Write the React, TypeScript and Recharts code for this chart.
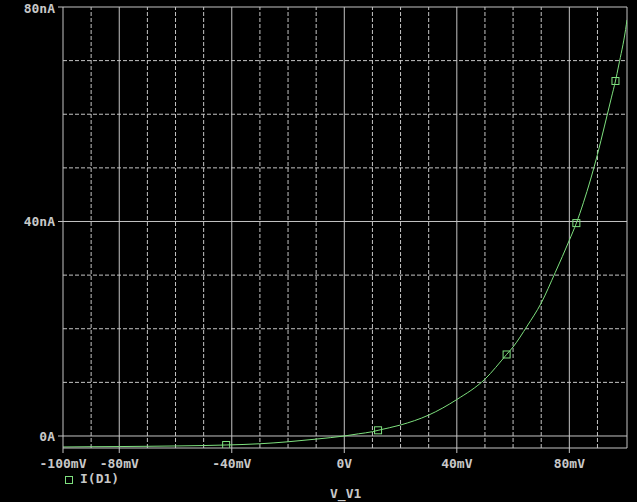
import { LineChart, Line, XAxis, YAxis, ReferenceLine } from 'recharts';

// V_V1 sweep (mV) and I(D1) (nA)
const voltages = [-100, -90, -80, -70, -60, -50, -42, -30, -20, -10, 0, 5, 10, 12, 20, 30, 40, 50, 57.7, 60, 65, 70, 75, 80, 82.5, 85, 90, 92.5, 95, 96.4, 97.5, 100, 100.5];
const currents = [-2.05, -2.0, -1.97, -1.92, -1.86, -1.78, -1.68, -1.45, -1.08, -0.58, 0, 0.4, 0.8, 1.06, 2.05, 3.9, 6.8, 10.6, 15.2, 16.6, 20.5, 24.8, 30.5, 36.5, 39.7, 43.5, 52.5, 57.8, 63.2, 66.2, 69.0, 75.8, 77.6];
const markerVoltages = [-42, 12, 57.7, 82.5, 96.4];

const xTicks = [-100, -80, -40, 0, 40, 80];
const xTickLabels = ['-100mV', '-80mV', '-40mV', '0V', '40mV', '80mV'];
const yTicks = [0, 40, 80];
const yTickLabels = ['0A', '40nA', '80nA'];

const xSolid = [-80, -40, 0, 40, 80];
const xDashed = [-90, -70, -60, -50, -30, -20, -10, 10, 20, 30, 50, 60, 70, 90];
const ySolid = [0, 40];
const yDashed = [10, 20, 30, 50, 60, 70];

const X_MIN = -100;
const X_MAX = 100.5;
const Y_MIN = -2.24;
const Y_MAX = 80;

const GREEN = '#7ee07e';
const GRID = '#c4c4c4';
const TEXT = '#c8c8c8';
const FONT = '"DejaVu Sans Mono", monospace';

const data = voltages.map((v, i) => ({
  v,
  i: currents[i],
  marker: markerVoltages.includes(v),
}));

function MarkerDot(props: any) {
  const { cx, cy, payload } = props;
  if (!payload || !payload.marker) return <g />;
  return <rect x={cx - 3.5} y={cy - 3.5} width={7} height={7} fill="none" stroke={GREEN} strokeWidth={1} />;
}

const tickStyle = { fill: TEXT, fontSize: 13, fontFamily: FONT, fontWeight: 'bold' as const };

export default function App() {
  return (
    <div style={{ position: 'fixed', left: 0, top: 0, width: 637, height: 502, background: '#000' }}>
      <LineChart width={637} height={502} data={data} margin={{ top: 7, right: 10, bottom: 0, left: 0 }}>
        <XAxis
          dataKey="v"
          type="number"
          domain={[X_MIN, X_MAX]}
          ticks={xTicks}
          tickFormatter={(t) => xTickLabels[xTicks.indexOf(t)] ?? ''}
          height={54}
          stroke={GRID}
          tickSize={5}
          tickMargin={6}
          tick={tickStyle}
          allowDataOverflow
        />
        <YAxis
          type="number"
          domain={[Y_MIN, Y_MAX]}
          ticks={yTicks}
          tickFormatter={(t) => yTickLabels[yTicks.indexOf(t)] ?? ''}
          width={63}
          stroke={GRID}
          tickSize={5}
          tickMargin={3}
          tick={tickStyle}
          allowDataOverflow
        />
        {xDashed.map((x) => (
          <ReferenceLine key={'xd' + x} x={x} stroke={GRID} strokeDasharray="4 2" />
        ))}
        {yDashed.map((y) => (
          <ReferenceLine key={'yd' + y} y={y} stroke={GRID} strokeDasharray="4 2" />
        ))}
        {xSolid.map((x) => (
          <ReferenceLine key={'xs' + x} x={x} stroke={GRID} />
        ))}
        {ySolid.map((y) => (
          <ReferenceLine key={'ys' + y} y={y} stroke={GRID} />
        ))}
        <ReferenceLine y={Y_MAX} stroke={GRID} />
        <ReferenceLine x={X_MAX} stroke={GRID} />
        <Line
          type="monotone"
          dataKey="i"
          stroke={GREEN}
          strokeWidth={1}
          dot={<MarkerDot />}
          activeDot={false}
          isAnimationActive={false}
        />
      </LineChart>
      <div style={{ position: 'absolute', left: 65, top: 476, width: 6, height: 6, border: `1px solid ${GREEN}` }} />
      <div style={{ position: 'absolute', left: 80, top: 471, color: TEXT, font: `bold 13px ${FONT}` }}>I(D1)</div>
      <div style={{ position: 'absolute', left: 330, top: 486, color: TEXT, font: `bold 13px ${FONT}` }}>V_V1</div>
    </div>
  );
}
